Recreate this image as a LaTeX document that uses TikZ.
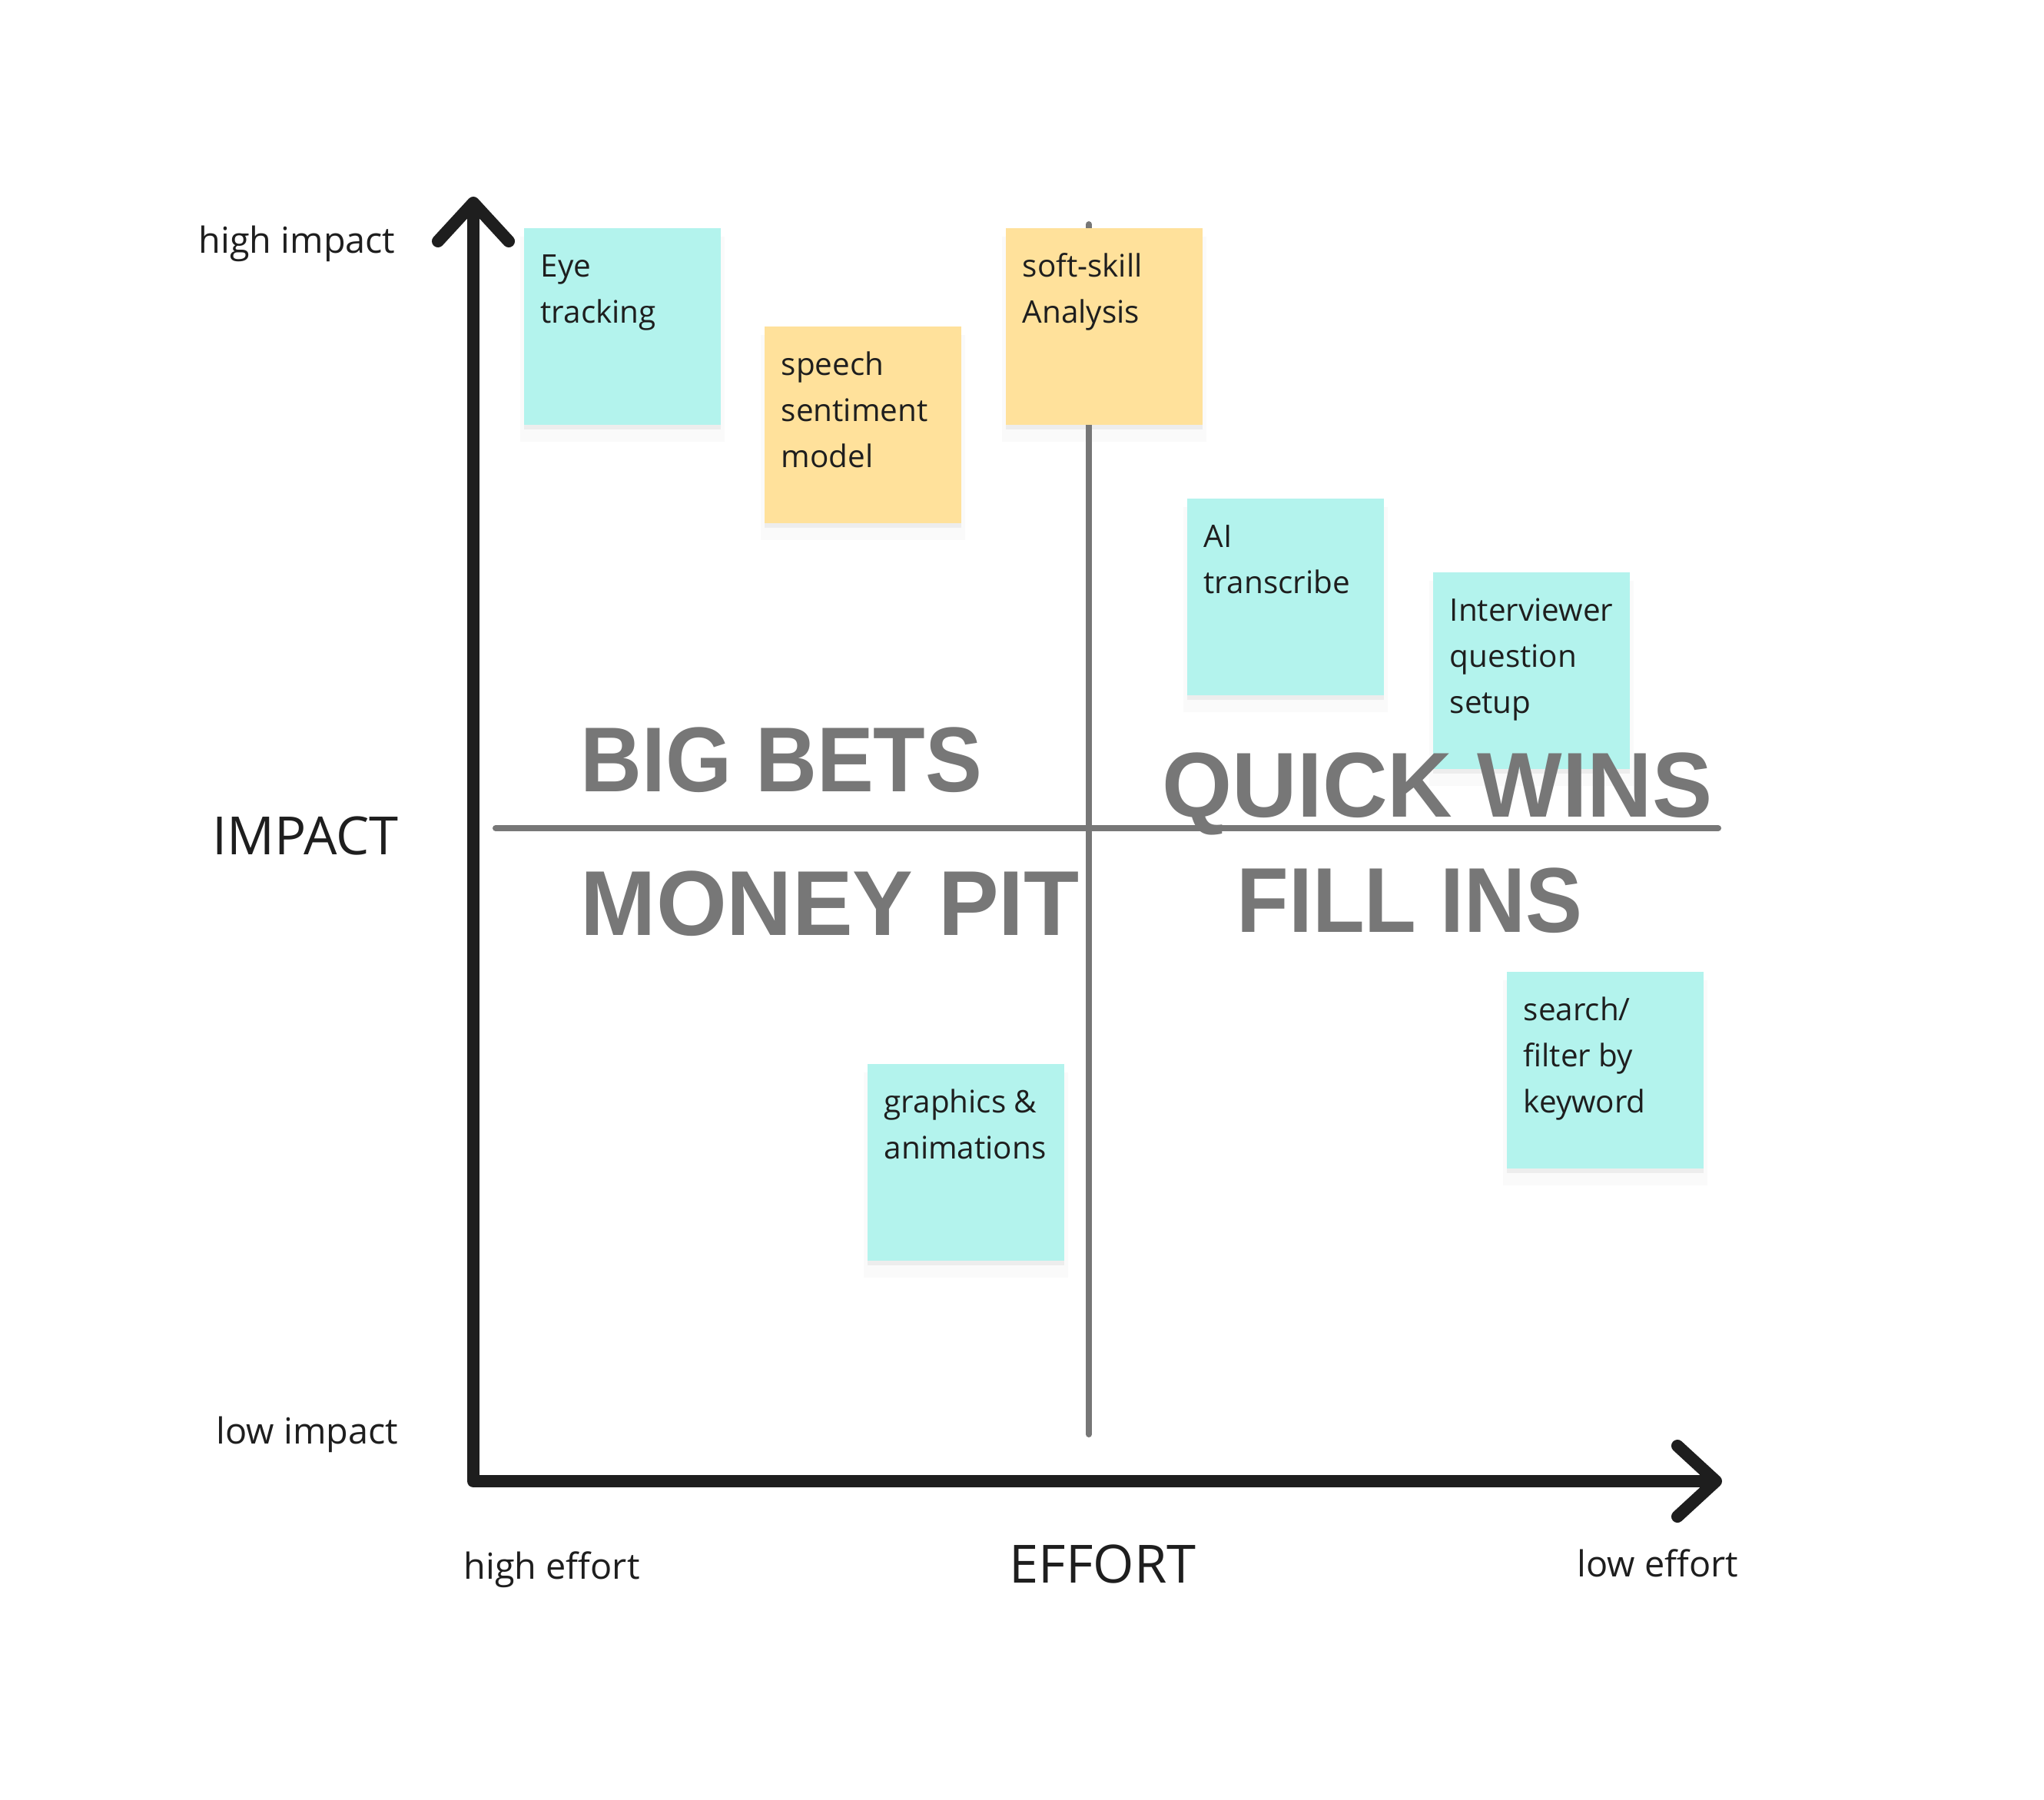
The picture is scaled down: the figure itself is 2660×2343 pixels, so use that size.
\documentclass[tikz,border=0pt]{standalone}
\usepackage{fontspec, graphicx, xcolor}
\setmainfont{Open Sans}
\newfontfamily\quadfont{Liberation Sans}
\usetikzlibrary{arrows.meta, shadows}

\definecolor{stickycyan}{HTML}{B3F3ED}
\definecolor{stickyyellow}{HTML}{FFE19B}
\definecolor{axisblack}{HTML}{1E1E1E}
\definecolor{splitgray}{HTML}{777777}

\newcommand{\notefont}{\fontsize{11.5pt}{17.07pt}\selectfont}
\newcommand{\tagfont}{\fontsize{13.3pt}{16pt}\selectfont}
\newcommand{\axisfont}{\fontsize{19.5pt}{23pt}\selectfont}
\newcommand{\quadrantfont}{\quadfont\bfseries\fontsize{34.1pt}{40pt}\selectfont}

\begin{document}
\begin{tikzpicture}[x=0.01cm, y=-0.01cm,
    sticky/.style={rectangle, draw=none, minimum size=2.56cm, inner sep=0pt, anchor=north west,
        drop shadow={shadow xshift=0cm, shadow yshift=-0.06cm, opacity=0.10},
        drop shadow={shadow xshift=0cm, shadow yshift=-0.16cm, shadow scale=1.04, opacity=0.04}},
    stickytext/.style={anchor=north west, inner sep=0pt, align=left, text=axisblack, font=\notefont},
    tag/.style={anchor=base west, inner sep=0pt, text=axisblack, font=\tagfont},
    axistitle/.style={anchor=base west, inner sep=0pt, text=axisblack, font=\axisfont},
    quadrant/.style={anchor=base west, inner sep=0pt, text=splitgray, font=\quadrantfont},
    axis/.style={draw=axisblack, line width=0.16cm, line cap=round, line join=round},
    split/.style={draw=splitgray, line width=0.08cm, line cap=round}]
    % Canvas
    \fill[white] (0,0) rectangle (2660,2343);
    \useasboundingbox (0,0) rectangle (2660,2343);

    % Quadrant split lines
    \coordinate (vtop) at (1417,292);
    \coordinate (vbottom) at (1417,1867);
    \coordinate (hleft) at (645,1078);
    \coordinate (hright) at (2236,1078);
    \draw[split] (vtop) -- (vbottom);
    \draw[split] (hleft) -- (hright);

    % Axes
    \coordinate (ytip) at (616,256);
    \coordinate (origin) at (616,1928);
    \coordinate (xtip) at (2241,1928);
    \draw[axis, {Straight Barb[length=0.5cm, width=0.92cm, round]}-{Straight Barb[length=0.5cm, width=0.92cm, round]}]
        (ytip) -- (origin) -- (xtip);

    % Sticky notes
    \node[sticky, fill=stickycyan] (eye) at (681,296) {};
    \node[stickytext] (eyetext) at ([shift={(22,22)}]eye.north west) {\strut Eye\\\strut tracking};

    \node[sticky, fill=stickyyellow] (speech) at (994,424) {};
    \node[stickytext] (speechtext) at ([shift={(22,22)}]speech.north west) {\strut speech\\\strut sentiment\\\strut model};

    \node[sticky, fill=stickyyellow] (softskill) at (1308,296) {};
    \node[stickytext] (softskilltext) at ([shift={(22,22)}]softskill.north west) {\strut soft-skill\\\strut Analysis};

    \node[sticky, fill=stickycyan] (aitrans) at (1544,648) {};
    \node[stickytext] (aitranstext) at ([shift={(22,22)}]aitrans.north west) {\strut AI\\\strut transcribe};

    \node[sticky, fill=stickycyan] (interviewer) at (1864,744) {};
    \node[stickytext] (interviewertext) at ([shift={(22,22)}]interviewer.north west) {\strut Interviewer\\\strut question\\\strut setup};

    \node[sticky, fill=stickycyan] (search) at (1960,1264) {};
    \node[stickytext] (searchtext) at ([shift={(22,22)}]search.north west) {\strut search/\\\strut filter by\\\strut keyword};

    \node[sticky, fill=stickycyan] (graphics) at (1128,1384) {};
    \node[stickytext] (graphicstext) at ([shift={(22,22)}]graphics.north west) {\strut graphics \&\\\strut animations};

    % Quadrant names
    \node[quadrant] (bigbets) at (755,1031) {\scalebox{0.923}[1]{BIG BETS}};
    \node[quadrant] (quickwins) at (1512,1063) {\scalebox{0.977}[1]{QUICK WINS}};
    \node[quadrant] (moneypit) at (755,1217) {\scalebox{0.984}[1]{MONEY PIT}};
    \node[quadrant] (fillins) at (1609,1213) {\scalebox{0.924}[1]{FILL INS}};

    % Axis labels
    \node[tag] (highimpact) at (258,330) {high impact};
    \node[axistitle] (impact) at (276,1112) {IMPACT};
    \node[tag] (lowimpact) at (281,1879) {low impact};
    \node[tag] (higheffort) at (603,2055) {high effort};
    \node[axistitle] (effort) at (1313,2060) {EFFORT};
    \node[tag] (loweffort) at (2052,2052) {low effort};
\end{tikzpicture}
\end{document}
